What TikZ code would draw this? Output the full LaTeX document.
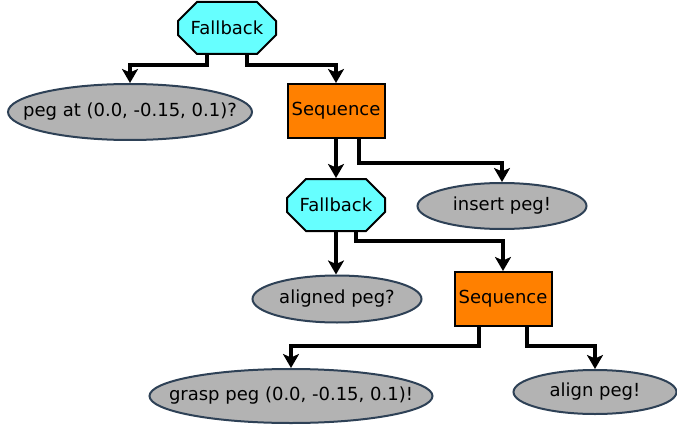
\documentclass[tikz,border=0pt]{standalone}
\usepackage{fontspec}
\setmainfont{DejaVu Sans}
\usetikzlibrary{arrows.meta,
                shapes.geometric,
                shapes.misc}
\definecolor{fbcyan}{HTML}{66FFFF}
\definecolor{seqorange}{HTML}{FF8000}
\definecolor{condgray}{HTML}{B3B3B3}
\definecolor{condedge}{HTML}{2E4156}
% text of a leaf does not size its ellipse
\newcommand{\leaflabel}[1]{\makebox[0pt]{#1}}
\tikzset{
        base/.style={align=center, inner sep=0pt,
                     font=\fontsize{18}{21}\selectfont},
        fallback/.style={base, chamfered rectangle,
                         chamfered rectangle xsep=22pt,
                         chamfered rectangle ysep=12pt,
                         draw=black, line width=2pt, fill=fbcyan,
                         minimum width=98pt, minimum height=52pt},
        sequence/.style={base, rectangle, draw=black, line width=2pt,
                         fill=seqorange, minimum width=97pt,
                         minimum height=54pt},
        leaf/.style={base, ellipse, draw=condedge, line width=2pt,
                     fill=condgray},
        link/.style={-{Stealth[length=14pt, width=16pt, inset=3.5pt]},
                     line width=3.2pt},
 }

\begin{document}
\begin{tikzpicture}[x=1pt, y=1pt]
    \useasboundingbox (0,0) rectangle (677,-425);
    \node[fallback] (fb1) at (227,-28) {Fallback};
    \node[leaf, minimum width=244pt, minimum height=56pt] (pegat)
        at (130,-112) {\leaflabel{peg at (0.0, -0.15, 0.1)?}};
    \node[sequence] (seq1) at (336,-111) {Sequence};
    \node[fallback] (fb2) at (336,-205) {Fallback};
    \node[leaf, minimum width=169pt, minimum height=46pt] (insert)
        at (502,-206) {\leaflabel{insert peg!}};
    \node[leaf, minimum width=169pt, minimum height=47pt] (aligned)
        at (337,-299) {\leaflabel{aligned peg?}};
    \node[sequence] (seq2) at (503,-299) {Sequence};
    \node[leaf, minimum width=283pt, minimum height=54pt] (grasp)
        at (291,-396) {\leaflabel{grasp peg (0.0, -0.15, 0.1)!}};
    \node[leaf, minimum width=163pt, minimum height=44pt] (align)
        at (595,-392) {\leaflabel{align peg!}};

    \draw[link] ([xshift=-20pt]fb1.south) -- ++(0,-10) -| (pegat.north);
    \draw[link] ([xshift=20pt]fb1.south) -- ++(0,-10) -| (seq1.north);
    \draw[link] (seq1.south) -- (fb2.north);
    \draw[link] ([xshift=23pt]seq1.south) -- ++(0,-24) -| (insert.north);
    \draw[link] (fb2.south) -- (aligned.north -| fb2.south);
    \draw[link] ([xshift=20pt]fb2.south) -- ++(0,-9) -| (seq2.north);
    \draw[link] ([xshift=-24pt]seq2.south) -- ++(0,-19) -| (grasp.north);
    \draw[link] ([xshift=24pt]seq2.south) -- ++(0,-19) -| (align.north);
\end{tikzpicture}
\end{document}
